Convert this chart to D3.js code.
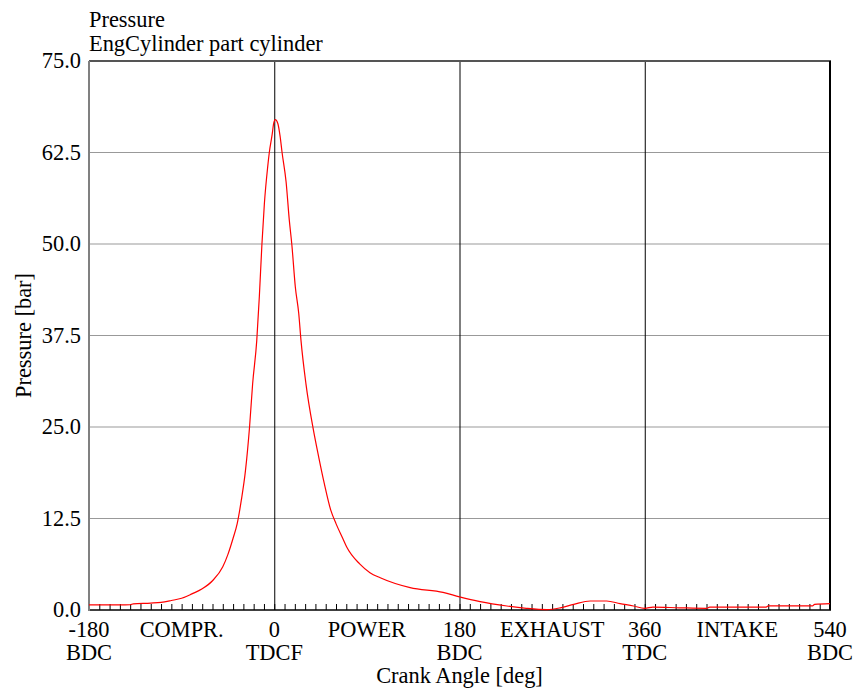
<!DOCTYPE html>
<html><head><meta charset="utf-8">
<script src="https://cdn.jsdelivr.net/npm/d3@7"></script>
<style>
html,body{margin:0;padding:0;background:#fff;}
svg{display:block;}
text{font-family:"Liberation Serif","Times New Roman",serif;font-size:22.4px;fill:#000;}
</style></head>
<body>
<script>
const titleLines = ["Pressure", "EngCylinder part cylinder"];
const yLabel = "Pressure [bar]";
const xLabel = "Crank Angle [deg]";
const yTicks = [0, 12.5, 25, 37.5, 50, 62.5, 75];
const xMajor = [-180, 0, 180, 360, 540];
const xMajorSub = ["BDC", "TDCF", "BDC", "TDC", "BDC"];
const xPhaseAt = [-90, 90, 270, 450];
const xPhase = ["COMPR.", "POWER", "EXHAUST", "INTAKE"];
const xGrid = [0, 180, 360];

const angle = [-180,-160,-140,-137,-120,-110,-100,-90,-80,-70,-60,-50,-45,-40,-36,-32,-28,-24,-21,-17,-14.5,-12,-9.6,-6.4,-4.8,-2.1,-0.5,1,3.4,5.7,7.6,11.5,14.6,17.1,20.5,23.8,26,30.8,37.9,43.2,48.6,55,60,66.5,70.4,83,93,103,132,164,180,200,226,245,265,278,291,307,323,336,349,360,368,394,420,423,478,480,523,525,540];
const pressure = [0.7,0.7,0.72,0.85,0.95,1.05,1.3,1.6,2.2,2.9,4.0,5.9,7.6,9.8,11.8,15.0,19.0,25.0,30.9,36.8,42.8,49.9,55.5,60.5,62.5,64.9,66.5,67.0,66.5,64.7,62.5,58.5,53.3,49.9,44.1,40.5,36.8,30.9,24.7,20.9,17.3,13.6,11.8,9.8,8.6,6.3,5.1,4.4,3.05,2.4,1.8,1.15,0.55,0.23,0.05,0.3,0.77,1.23,1.23,0.87,0.55,0.23,0.4,0.3,0.23,0.4,0.4,0.55,0.55,0.77,0.87];

const W = 862, H = 691;
const L = 89, R = 830, T = 61, B = 610;

const svg = d3.select("body").append("svg").attr("width", W).attr("height", H);
const x = d3.scaleLinear().domain([-180, 540]).range([L, R]);
const y = d3.scaleLinear().domain([0, 75]).range([B, T]);

// horizontal grid
svg.append("g").selectAll("line").data(yTicks.slice(1, -1)).join("line")
  .attr("x1", L).attr("x2", R).attr("y1", d => y(d)).attr("y2", d => y(d))
  .attr("stroke", "#999").attr("stroke-width", 1);

// vertical grid
svg.append("g").selectAll("line").data(xGrid).join("line")
  .attr("x1", d => x(d)+0.5).attr("x2", d => x(d)+0.5).attr("y1", T).attr("y2", B)
  .attr("stroke", "#000").attr("stroke-width", 1);

// minor ticks
const tickAxis = d3.axisBottom(x).tickValues(d3.range(-180, 541, 10)).tickSizeInner(-6).tickSizeOuter(0).tickFormat("");
const gt = svg.append("g").attr("transform", `translate(0,${B})`).call(tickAxis);
gt.select(".domain").remove();
gt.selectAll("line").attr("stroke", "#000");

// frame
svg.append("line").attr("x1", L).attr("x2", R+1).attr("y1", T).attr("y2", T).attr("stroke", "#555").attr("stroke-width", 2);
svg.append("line").attr("x1", R).attr("x2", R).attr("y1", T).attr("y2", B).attr("stroke", "#000").attr("stroke-width", 2);
svg.append("line").attr("x1", L).attr("x2", R+1).attr("y1", B).attr("y2", B).attr("stroke", "#000").attr("stroke-width", 1.5);
svg.append("line").attr("x1", L).attr("x2", L).attr("y1", T).attr("y2", B+1).attr("stroke", "#808080").attr("stroke-width", 2);

// curve
const line = d3.line().x((d, i) => x(angle[i])).y(d => y(d)).curve(d3.curveMonotoneX);
svg.append("path").attr("d", line(pressure)).attr("fill", "none").attr("stroke", "#ff0000").attr("stroke-width", 1.2);

// y tick labels
svg.append("g").selectAll("text").data(yTicks).join("text")
  .attr("x", 81).attr("y", d => y(d) + 7).attr("text-anchor", "end")
  .text(d => d.toFixed(1));

// x labels
svg.append("g").selectAll("text").data(xMajor).join("text")
  .attr("x", d => x(d)).attr("y", 637).attr("text-anchor", "middle").text(d => d);
svg.append("g").selectAll("text").data(xMajorSub).join("text")
  .attr("x", (d, i) => x(xMajor[i])).attr("y", 660).attr("text-anchor", "middle").text(d => d);
svg.append("g").selectAll("text").data(xPhase).join("text")
  .attr("x", (d, i) => x(xPhaseAt[i])).attr("y", 637).attr("text-anchor", "middle").text(d => d);

svg.append("text").attr("x", x(180)).attr("y", 683).attr("text-anchor", "middle").text(xLabel);
svg.append("text").attr("transform", `translate(31,${(T + B) / 2}) rotate(-90)`).attr("text-anchor", "middle").text(yLabel);

svg.append("g").selectAll("text").data(titleLines).join("text")
  .attr("x", L).attr("y", (d, i) => 27 + i * 24).text(d => d);
</script>
</body></html>
